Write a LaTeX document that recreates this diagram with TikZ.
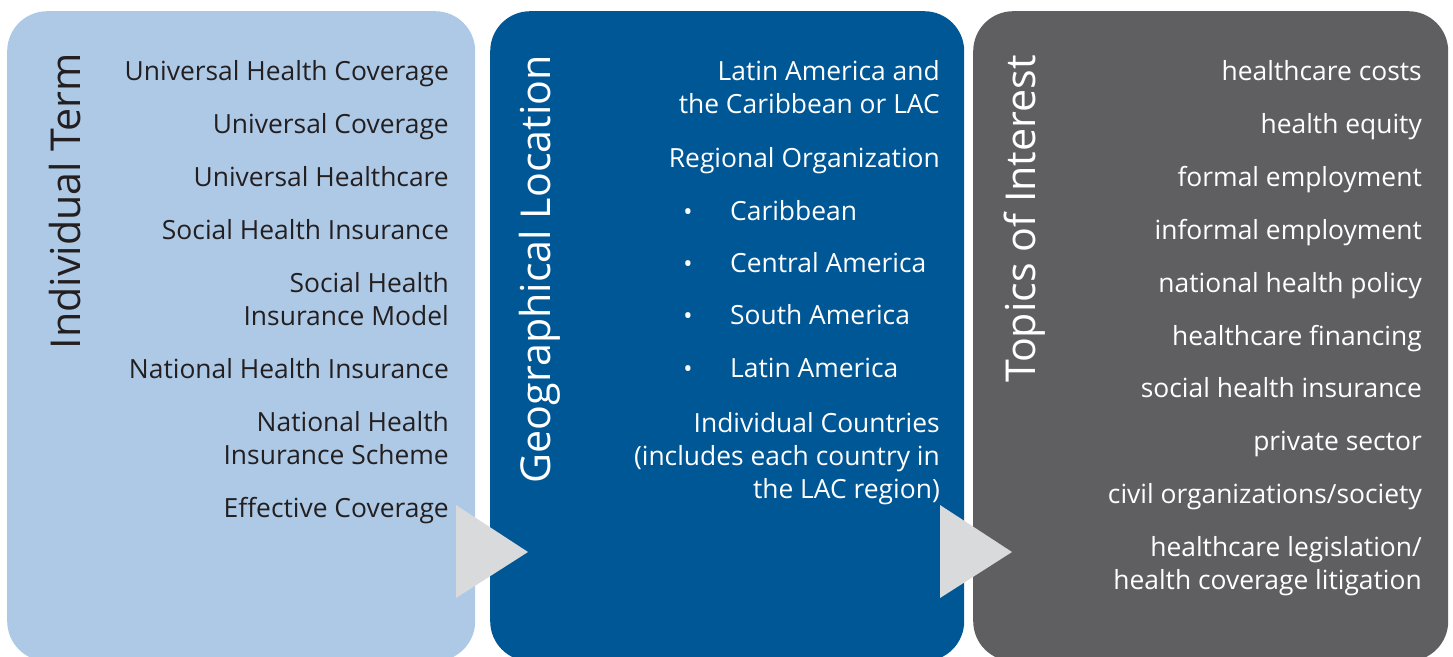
\documentclass[tikz,border=0pt]{standalone}
\usepackage{fontspec}
\setmainfont{Open Sans}
\definecolor{lightbox}{RGB}{174,201,230}
\definecolor{bluebox}{RGB}{0,87,150}
\definecolor{graybox}{RGB}{95,95,98}
\definecolor{arrowgray}{RGB}{217,218,220}
\definecolor{darktext}{RGB}{35,31,32}
\tikzset{
  panel/.style={rectangle, rounded corners=40pt, anchor=north west, inner sep=0pt, minimum height=650pt},
  item/.style={anchor=base east, inner sep=0pt, align=right, font=\fontsize{26.4}{33}\selectfont},
  litem/.style={anchor=base west, inner sep=0pt, font=\fontsize{26.4}{33}\selectfont},
  title/.style={rotate=90, anchor=base east, inner sep=0pt, font=\fontsize{41.2}{48}\selectfont},
  chevron/.style={fill=arrowgray},
}
\begin{document}
\begin{tikzpicture}[x=1pt,y=-1pt]
\useasboundingbox (0,0) rectangle (1453,656);
\clip (0,0) rectangle (1453,656);
% panels
\node[panel, fill=lightbox, minimum width=468pt] (p1) at (7,11) {};
\node[panel, fill=bluebox, minimum width=474pt] (p2) at (490,11) {};
\node[panel, fill=graybox, minimum width=475pt] (p3) at (973,11) {};
% chevrons
\coordinate (c1) at (456,505);
\coordinate (c2) at (940,505);
\fill[chevron] (c1) -- ++(72,47) -- ++(-72,46) -- cycle;
\fill[chevron] (c2) -- ++(72,47) -- ++(-72,46) -- cycle;
% titles
\node[title, text=darktext] (t1) at (80,53) {Individual Term};
\node[title, text=white] (t2) at (550,55) {Geographical Location};
\node[title, text=white] (t3) at (1035,55) {Topics of Interest};
% column 1
\begin{scope}[every node/.append style={text=darktext}]
\node[item] (a1) at (449,80) {Universal Health Coverage};
\node[item] (a2) at (449,133) {Universal Coverage};
\node[item] (a3) at (449,186) {Universal Healthcare};
\node[item] (a4) at (449,239) {Social Health Insurance};
\node[item] (a5) at (449,325) {Social Health\\Insurance Model};
\node[item] (a6) at (449,378) {National Health Insurance};
\node[item] (a7) at (449,464) {National Health\\Insurance Scheme};
\node[item] (a8) at (449,517) {Effective Coverage};
\end{scope}
% column 2
\begin{scope}[every node/.append style={text=white}]
\node[item] (b1) at (940,113) {Latin America and\\the Caribbean or LAC};
\node[item] (b2) at (940,167) {Regional Organization};
\node[litem] (b3) at (730,220) {Caribbean};
\node[litem] (b4) at (730,272) {Central America};
\node[litem] (b5) at (730,324) {South America};
\node[litem] (b6) at (730,377) {Latin America};
\foreach \n in {3,4,5,6}
  \node[anchor=base, inner sep=0pt, font=\fontsize{24.5}{33}\selectfont] (d\n) at ([xshift=-42pt]b\n.base west) {•};
\node[item] (b7) at (940,498) {Individual Countries\\(includes each country in\\the LAC region)};
\end{scope}
% column 3
\begin{scope}[every node/.append style={text=white}]
\node[item] (e1) at (1422,80) {healthcare costs};
\node[item] (e2) at (1422,133) {health equity};
\node[item] (e3) at (1422,186) {formal employment};
\node[item] (e4) at (1422,239) {informal employment};
\node[item] (e5) at (1422,292) {national health policy};
\node[item] (e6) at (1422,345) {healthcare financing};
\node[item] (e7) at (1422,397) {social health insurance};
\node[item] (e8) at (1422,450) {private sector};
\node[item] (e9) at (1422,503) {civil organizations/society};
\node[item] (e10) at (1422,589) {healthcare legislation/\\health coverage litigation};
\end{scope}
\end{tikzpicture}
\end{document}
